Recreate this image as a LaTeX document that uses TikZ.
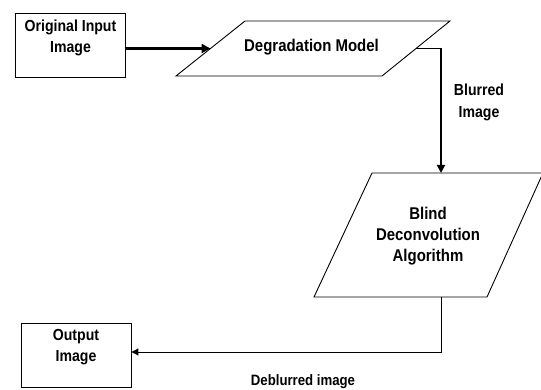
\documentclass[tikz,border=0pt]{standalone}
\usepackage{fontspec}
\setmainfont{Liberation Sans}[FakeStretch=0.88]
\usetikzlibrary{calc,arrows.meta}
\begin{document}
\begin{tikzpicture}[x=1pt,y=-1pt,
  box/.style={draw,line width=0.9pt,minimum width=110pt,minimum height=64pt,inner sep=0pt},
  paraline/.style={draw,line width=0.9pt,line join=miter},
  lbl/.style={font=\bfseries\fontsize{16}{21.5}\selectfont,align=center,inner sep=0pt},
  biglbl/.style={font=\bfseries\fontsize{17}{21}\selectfont,align=center,inner sep=0pt},
  thickarrow/.style={line width=2.2pt,-{Triangle[length=9pt,width=9pt]}},
  medarrow/.style={line width=1.8pt,-{Triangle[length=8pt,width=8pt]}},
  thinarrow/.style={line width=1pt,-{Triangle[length=7pt,width=7pt]}}]
\useasboundingbox (0,0) rectangle (541,390);
% boxes
\node[box] (inbox) at (70.5,45) {};
\node[lbl] (intext) at (70.5,38) {Original Input\\Image};
\node[box] (outbox) at (76,355) {};
\node[lbl] (outtext) at (76,347) {Output\\Image};
% parallelogram 1
\coordinate (p1bl) at (176,76);
\coordinate (p1tl) at (245,21);
\coordinate (p1tr) at (450,21);
\coordinate (p1br) at (382,76);
\draw[paraline] (p1bl) -- (p1tl) -- (p1tr) -- (p1br) -- cycle;
\node[biglbl] (p1text) at (311.5,47) {Degradation Model};
% parallelogram 2
\coordinate (p2bl) at (314,297);
\coordinate (p2tl) at (372,173);
\coordinate (p2tr) at (543,173);
\coordinate (p2br) at (487,297);
\draw[paraline] (p2bl) -- (p2tl) -- (p2tr) -- (p2br) -- cycle;
\node[biglbl] (p2text) at (428,236) {Blind\\Deconvolution\\Algorithm};
% labels
\node[lbl] (blur) at (479,102.5) {Blurred\\Image};
\node[font=\bfseries\fontsize{15}{18}\selectfont,inner sep=0pt] (deblur) at (303,382) {Deblurred image};
% connectors
\coordinate (p1w) at ($(p1bl)!0.5!(p1tl)$);
\coordinate (p1e) at ($(p1br)!0.5!(p1tr)$);
\coordinate (a1) at (inbox.east |- p1w);
\draw[thickarrow] (a1) -- (p1w);
\coordinate (k1) at (441,0);
\draw[medarrow] (p1e) -| (k1 |- p2tl);
\coordinate (k2) at (441,352);
\draw[thinarrow] (k2 |- p2bl) -- (k2) -- (k2 -| outbox.east);
\end{tikzpicture}
\end{document}
